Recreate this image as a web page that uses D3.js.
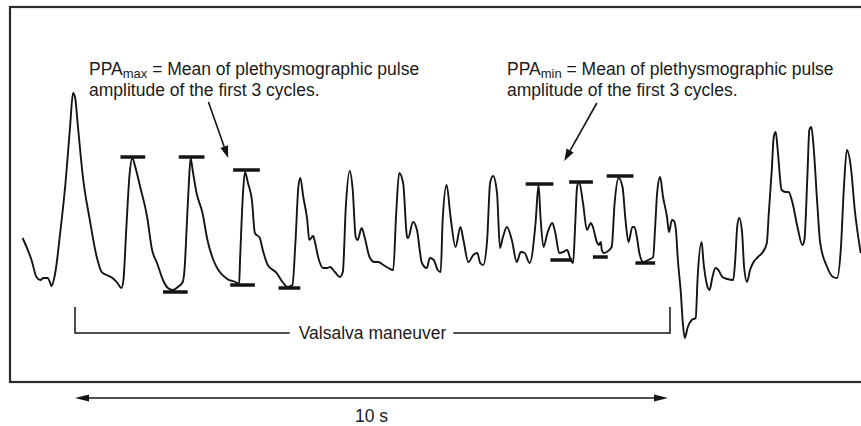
<!DOCTYPE html>
<html>
<head>
<meta charset="utf-8">
<script src="https://cdn.jsdelivr.net/npm/d3@7"></script>
<style>
  body { margin: 0; background: #fff; }
  svg { display: block; font-family: "Liberation Sans", Arial, sans-serif; }
</style>
</head>
<body>
<svg id="chart" width="861" height="426"></svg>
<script>
// plethysmographic trace, time as sample index at 60 Hz (600 samples = 10 s), amplitude in a.u.
const sampleIdx = [
  -53, -44, -39, -35, -32, -28, -25, -24, -20, -15, -10, -5, -2, 0, 3, 8, 15, 22, 27, 32, 38, 43, 47, 49,
  52, 55, 58, 61, 66, 73, 78, 83, 89, 94, 99, 104, 109, 111, 113, 115, 117, 119, 123, 129, 134, 140, 145,
  154, 164, 166, 167, 170, 172, 175, 179, 182, 187, 190, 195, 204, 210, 215, 220, 223, 226, 228,
  231, 235, 237, 241, 243, 246, 251, 255, 258, 263, 268, 271, 274, 278, 281, 284, 286, 290, 293, 298,
  303, 307, 312, 317, 322, 325, 328, 332, 336, 337, 342, 346, 351, 356, 359, 363, 367, 370, 372, 376,
  380, 385, 390, 393, 398, 403, 407, 410, 413, 417, 420, 423, 427, 430, 433, 437, 442, 447, 451, 455,
  460, 466, 469, 471, 474, 478, 483, 486, 490, 494, 498, 501, 504, 506, 508, 510, 514, 518, 522, 524,
  528, 530, 532, 533, 535, 538, 543, 546, 550, 554, 557, 560, 564, 566, 569, 571, 575, 580, 585, 587,
  589, 592, 595, 599, 601, 604, 606, 608, 610, 613, 615, 617, 620, 624, 628, 630, 634, 636, 639, 642,
  645, 648, 651, 655, 660, 666, 668, 670, 672, 675, 677, 680, 683, 686, 691, 696, 700, 702, 705, 707,
  709, 711, 715, 719, 722, 726, 731, 736, 738, 741, 743, 745, 747, 751, 754, 761, 767, 771, 775, 778,
  781, 785, 789, 795
];
const amplitude = [
  122, 100, 83, 80, 82, 82, 77, 74, 87, 127, 173, 233, 267, 263, 233, 183, 140, 103, 88, 85, 82, 77, 72, 80,
  133, 183, 202, 193, 173, 143, 110, 97, 80, 72, 70, 73, 78, 93, 133, 173, 202, 190, 167, 147, 120, 100, 90,
  81, 77, 75, 100, 167, 188, 177, 160, 127, 122, 110, 95, 87, 78, 73, 75, 117, 173, 182,
  163, 140, 120, 124, 117, 103, 92, 92, 93, 88, 83, 88, 153, 189, 170, 123, 120, 132, 123, 103,
  98, 98, 95, 92, 90, 147, 187, 177, 123, 122, 138, 130, 97, 92, 102, 100, 90, 88, 140, 175,
  143, 113, 133, 120, 98, 105, 107, 97, 95, 120, 177, 184, 167, 112, 123, 133, 120, 98, 108, 107,
  97, 137, 175, 143, 113, 127, 137, 127, 107, 108, 110, 102, 97, 133, 173, 178, 157, 130, 137, 133,
  118, 115, 118, 110, 107, 108, 113, 157, 182, 173, 140, 118, 133, 133, 120, 107, 98, 100, 103, 133,
  167, 183, 163, 143, 128, 140, 139, 130, 100, 67, 37, 22, 33, 40, 42, 83, 118, 97, 77, 70,
  83, 92, 90, 83, 81, 80, 100, 133, 142, 127, 93, 78, 90, 97, 103, 108, 117, 147, 190, 223,
  228, 210, 170, 168, 168, 157, 133, 115, 120, 183, 230, 233, 217, 157, 117, 93, 83, 82, 113, 173,
  210, 193, 150, 107
];

// PPA marks: [start sample, end sample, amplitude level]
const ppaMaxPeaks   = [[46, 71, 203], [105, 131, 203], [160, 187, 190]];
const ppaMaxTroughs = [[89, 114, 68], [157, 182, 75], [206, 228, 72]];
const ppaMinPeaks   = [[456, 484, 176], [500, 524, 178], [538, 565, 184]];
const ppaMinTroughs = [[481, 503, 100], [524, 539, 103], [567, 587, 97]];

// annotation pointers: [tail sample, tail amplitude, tip sample, tip amplitude]
const maxPointer = [135, 258, 155, 202];
const minPointer = [528, 257, 495, 199];

const valsalvaSpan = [0, 602];
const timeSpan = [0, 600];
const timeLabel = "10 s";

const svg = d3.select("#chart");
const ink = "#141414";

const x = d3.scaleLinear().domain([0, 600]).range([75, 668]);
const y = d3.scaleLinear().domain([0, 350]).range([360, 10]);

// frame (open on the right, runs off the image)
svg.append("rect")
    .attr("x", 10).attr("y", 7)
    .attr("width", 900).attr("height", 375)
    .attr("fill", "none")
    .attr("stroke", "#2b2b2b")
    .attr("stroke-width", 2.2);

const trace = sampleIdx.map((t, i) => ({t: t, a: amplitude[i]}));

const line = d3.line()
    .x(d => x(d.t))
    .y(d => y(d.a))
    .curve(d3.curveMonotoneX);

svg.append("path")
    .datum(trace)
    .attr("d", line)
    .attr("fill", "none")
    .attr("stroke", ink)
    .attr("stroke-width", 1.9)
    .attr("stroke-linejoin", "round");

// PPA bars
const bars = [].concat(ppaMaxPeaks, ppaMaxTroughs, ppaMinPeaks, ppaMinTroughs);
svg.selectAll(".ppa")
    .data(bars)
    .enter().append("line")
    .attr("class", "ppa")
    .attr("x1", d => x(d[0]))
    .attr("x2", d => x(d[1]))
    .attr("y1", d => y(d[2]))
    .attr("y2", d => y(d[2]))
    .attr("stroke", ink)
    .attr("stroke-width", 3.5);

function headPoints(x1, y1, x2, y2, len, half){
    const ang = Math.atan2(y2 - y1, x2 - x1);
    const bx = x2 - len * Math.cos(ang), by = y2 - len * Math.sin(ang);
    const px = -Math.sin(ang) * half, py = Math.cos(ang) * half;
    return {base: [bx, by], pts: [[x2, y2], [bx + px, by + py], [bx - px, by - py]]};
}

function arrow(x1, y1, x2, y2, len, half, width){
    const h = headPoints(x1, y1, x2, y2, len, half);
    svg.append("line")
        .attr("x1", x1).attr("y1", y1)
        .attr("x2", h.base[0]).attr("y2", h.base[1])
        .attr("stroke", ink).attr("stroke-width", width);
    svg.append("polygon")
        .attr("points", h.pts.map(p => p.join(",")).join(" "))
        .attr("fill", ink);
}

function annotation(tx, ty, sub, ptr){
    const t = svg.append("text")
        .attr("x", tx).attr("y", ty)
        .attr("font-size", 17.5)
        .attr("fill", "#1a1a1a");
    t.append("tspan").text("PPA");
    t.append("tspan").attr("font-size", 13).attr("dy", 2.5).text(sub);
    t.append("tspan").attr("dy", -2.5).text(" = Mean of plethysmographic pulse");
    svg.append("text")
        .attr("x", tx).attr("y", ty + 21)
        .attr("font-size", 17.5)
        .attr("fill", "#1a1a1a")
        .text("amplitude of the first 3 cycles.");
    arrow(x(ptr[0]), y(ptr[1]), x(ptr[2]), y(ptr[3]), 12, 4, 1.6);
}

annotation(89, 75, "max", maxPointer);
annotation(507, 75, "min", minPointer);

// Valsalva bracket
const bY = 333;
const vc = (x(valsalvaSpan[0]) + x(valsalvaSpan[1])) / 2;
const vl = svg.append("text")
    .attr("x", vc)
    .attr("y", bY + 6)
    .attr("text-anchor", "middle")
    .attr("font-size", 17.5)
    .attr("fill", "#1a1a1a")
    .text("Valsalva maneuver");
const vw = vl.node().getComputedTextLength();

svg.append("path")
    .attr("d", `M${x(valsalvaSpan[0])},${bY - 26}V${bY}H${vc - vw / 2 - 9}`)
    .attr("fill", "none").attr("stroke", ink).attr("stroke-width", 1.5);
svg.append("path")
    .attr("d", `M${vc + vw / 2 + 7},${bY}H${x(valsalvaSpan[1])}V${bY - 26}`)
    .attr("fill", "none").attr("stroke", ink).attr("stroke-width", 1.5);

// time scale arrow
const aY = 398;
const xa = x(timeSpan[0]), xb = x(timeSpan[1]);
const hl = headPoints(xb, aY, xa, aY, 14, 3.6);
const hr = headPoints(xa, aY, xb, aY, 14, 3.6);
svg.append("line")
    .attr("x1", hl.base[0]).attr("x2", hr.base[0])
    .attr("y1", aY).attr("y2", aY)
    .attr("stroke", ink).attr("stroke-width", 1.6);
[hl, hr].forEach(h => {
    svg.append("polygon")
        .attr("points", h.pts.map(p => p.join(",")).join(" "))
        .attr("fill", ink);
});

svg.append("text")
    .attr("x", (xa + xb) / 2)
    .attr("y", 422)
    .attr("text-anchor", "middle")
    .attr("font-size", 17.5)
    .attr("fill", "#1a1a1a")
    .text(timeLabel);
</script>
</body>
</html>
